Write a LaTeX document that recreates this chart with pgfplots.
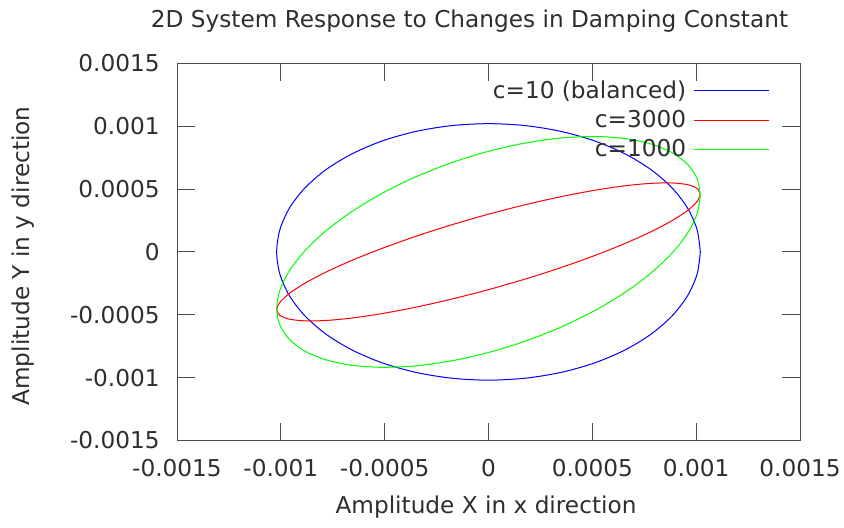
\documentclass[border=0pt]{standalone}
\usepackage{pgfplots}
\pgfplotsset{compat=1.18}
\usepackage{fontspec}
\setmainfont{DejaVu Sans}
\definecolor{txt}{gray}{0.18}
\definecolor{bordc}{gray}{0.3}
\begin{document}
\begin{tikzpicture}[font=\fontsize{11.6}{14}\selectfont]
\useasboundingbox (-88.5pt,-43.25pt) rectangle (333.5pt,220.25pt);
\begin{axis}[
  at={(0pt,0pt)}, anchor=south west,
  scale only axis, width=311.5pt, height=188.6pt,
  xmin=-0.0015, xmax=0.0015, ymin=-0.0015, ymax=0.0015,
  xtick={-0.0015,-0.001,-0.0005,0,0.0005,0.001,0.0015},
  xticklabels={-0.0015,-0.001,-0.0005,0,0.0005,0.001,0.0015},
  ytick={-0.0015,-0.001,-0.0005,0,0.0005,0.001,0.0015},
  yticklabels={-0.0015,-0.001,-0.0005,0,0.0005,0.001,0.0015},
  scaled ticks=false,
  tick align=inside, major tick length=9pt,
  axis line style={bordc, line width=0.5pt},
  tick style={bordc, line width=0.5pt},
  xticklabel style={anchor=base, inner sep=0pt, yshift=-18.1pt, text=txt},
  yticklabel style={anchor=east, inner sep=0pt, xshift=-8.5pt, text=txt},
  legend style={draw=none, fill=none, at={(0.9518,0.9536)}, anchor=north east,
    inner sep=0pt, row sep=3.65pt, column sep=3.75pt,
    nodes={inner sep=0pt, text height=8.5pt, text depth=2.5pt}},
  legend cell align=right,
  legend plot pos=right,
  legend image code/.code={\draw[#1, line width=0.5pt] (0pt,0.7pt) -- (37.5pt,0.7pt);},
]
\addplot[draw=blue, line width=0.5pt, smooth] coordinates {
(1020e-6,0) (1004.5e-6,177.1e-6) (958.5e-6,348.9e-6) (883.4e-6,510e-6) (781.4e-6,655.6e-6)
(655.6e-6,781.4e-6) (510e-6,883.4e-6) (348.9e-6,958.5e-6) (177.1e-6,1004.5e-6) (0,1020e-6)
(-177.1e-6,1004.5e-6) (-348.9e-6,958.5e-6) (-510e-6,883.4e-6) (-655.6e-6,781.4e-6) (-781.4e-6,655.6e-6)
(-883.4e-6,510e-6) (-958.5e-6,348.9e-6) (-1004.5e-6,177.1e-6) (-1020e-6,0)
(-1004.5e-6,-177.1e-6) (-958.5e-6,-348.9e-6) (-883.4e-6,-510e-6) (-781.4e-6,-655.6e-6)
(-655.6e-6,-781.4e-6) (-510e-6,-883.4e-6) (-348.9e-6,-958.5e-6) (-177.1e-6,-1004.5e-6) (0,-1020e-6)
(177.1e-6,-1004.5e-6) (348.9e-6,-958.5e-6) (510e-6,-883.4e-6) (655.6e-6,-781.4e-6) (781.4e-6,-655.6e-6)
(883.4e-6,-510e-6) (958.5e-6,-348.9e-6) (1004.5e-6,-177.1e-6) (1020e-6,0)
};
\addlegendentry{\textcolor{txt}{c=10 (balanced)}}
\addplot[draw=red, line width=0.5pt, smooth] coordinates {
(1020e-6,460e-6) (1004.5e-6,505.1e-6) (958.5e-6,534.9e-6) (883.4e-6,548.4e-6) (781.4e-6,545.2e-6)
(655.6e-6,525.5e-6) (510e-6,489.8e-6) (348.9e-6,439.2e-6) (177.1e-6,375.3e-6) (0,300e-6)
(-177.1e-6,215.6e-6) (-348.9e-6,124.6e-6) (-510e-6,29.8e-6) (-655.6e-6,-65.9e-6) (-781.4e-6,-159.5e-6)
(-883.4e-6,-248.4e-6) (-958.5e-6,-329.7e-6) (-1004.5e-6,-400.9e-6) (-1020e-6,-460e-6)
(-1004.5e-6,-505.1e-6) (-958.5e-6,-534.9e-6) (-883.4e-6,-548.4e-6) (-781.4e-6,-545.2e-6)
(-655.6e-6,-525.5e-6) (-510e-6,-489.8e-6) (-348.9e-6,-439.2e-6) (-177.1e-6,-375.3e-6) (0,-300e-6)
(177.1e-6,-215.6e-6) (348.9e-6,-124.6e-6) (510e-6,-29.8e-6) (655.6e-6,65.9e-6) (781.4e-6,159.5e-6)
(883.4e-6,248.4e-6) (958.5e-6,329.7e-6) (1004.5e-6,400.9e-6) (1020e-6,460e-6)
};
\addlegendentry{\textcolor{txt}{c=3000}}
\addplot[draw=green, line width=0.5pt, smooth] coordinates {
(1020e-6,450e-6) (1004.5e-6,582.1e-6) (958.5e-6,696.5e-6) (883.4e-6,789.7e-6) (781.4e-6,859.0e-6)
(655.6e-6,902.1e-6) (510e-6,917.8e-6) (348.9e-6,905.7e-6) (177.1e-6,866.0e-6) (0,800e-6)
(-177.1e-6,709.7e-6) (-348.9e-6,597.8e-6) (-510e-6,467.8e-6) (-655.6e-6,323.6e-6) (-781.4e-6,169.5e-6)
(-883.4e-6,10.3e-6) (-958.5e-6,-149.2e-6) (-1004.5e-6,-304.2e-6) (-1020e-6,-450e-6)
(-1004.5e-6,-582.1e-6) (-958.5e-6,-696.5e-6) (-883.4e-6,-789.7e-6) (-781.4e-6,-859.0e-6)
(-655.6e-6,-902.1e-6) (-510e-6,-917.8e-6) (-348.9e-6,-905.7e-6) (-177.1e-6,-866.0e-6) (0,-800e-6)
(177.1e-6,-709.7e-6) (348.9e-6,-597.8e-6) (510e-6,-467.8e-6) (655.6e-6,-323.6e-6) (781.4e-6,-169.5e-6)
(883.4e-6,-10.3e-6) (958.5e-6,149.2e-6) (1004.5e-6,304.2e-6) (1020e-6,450e-6)
};
\addlegendentry{\textcolor{txt}{c=1000}}
\end{axis}
\node[anchor=base, text=txt] at (146.25pt,206.75pt) {2D System Response to Changes in Damping Constant};
\node[anchor=base, text=txt] at (154.5pt,-36.4pt) {Amplitude X in x direction};
\node[rotate=90, anchor=base, text=txt] at (-73.5pt,92.25pt) {Amplitude Y in y direction};
\end{tikzpicture}
\end{document}
